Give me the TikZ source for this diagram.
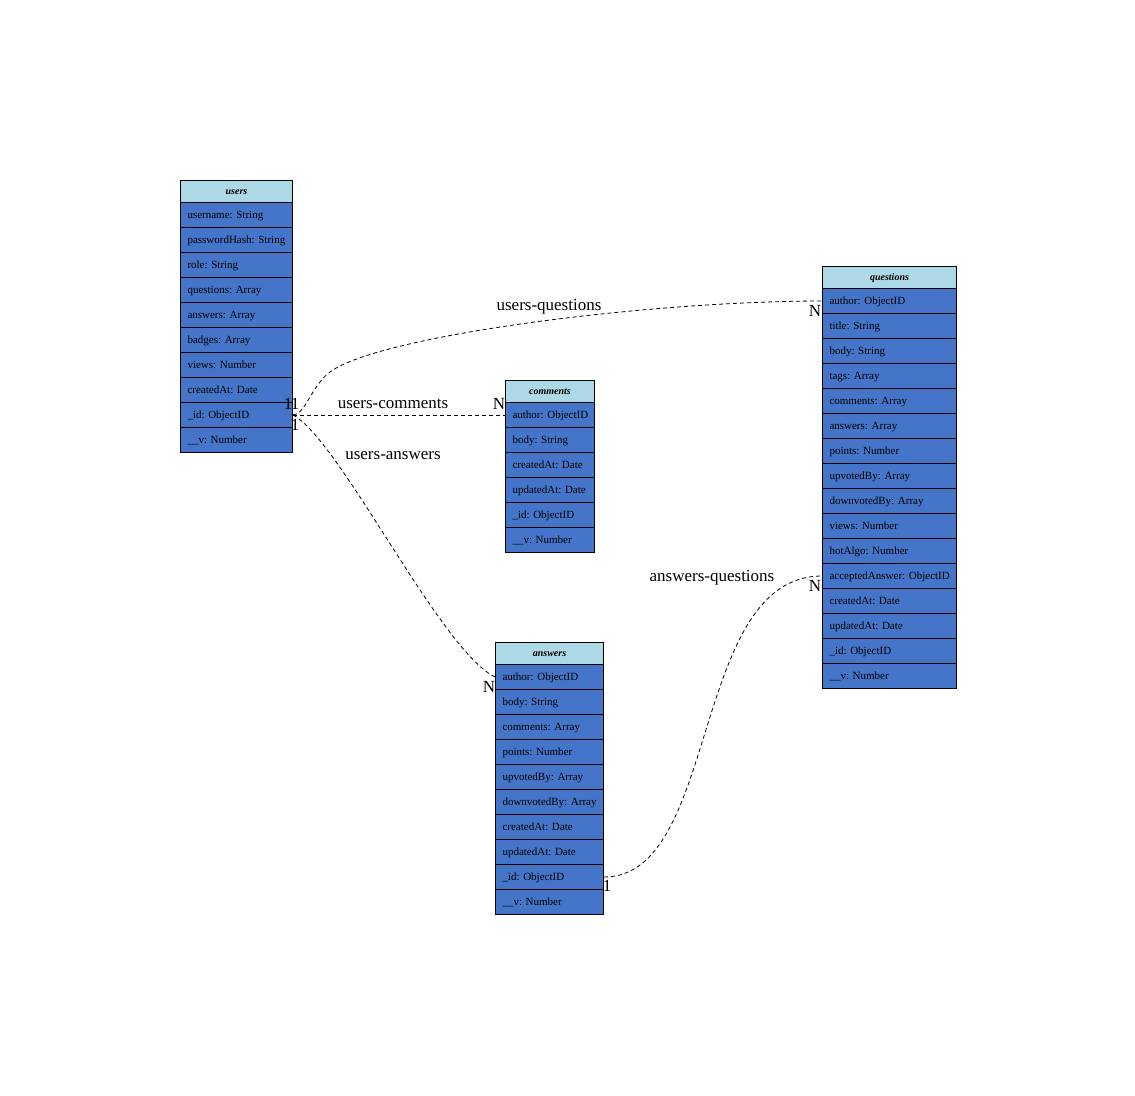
\documentclass[tikz,border=0pt]{standalone}
\usepackage{fontspec}
\setmainfont{Liberation Serif}
\frenchspacing
\hbadness=10000 \hfuzz=50pt
\definecolor{rowblue}{HTML}{4475C9}
\definecolor{hdrblue}{HTML}{ADD8E6}
\tikzset{
  hdr/.style={draw=black, fill=hdrblue, minimum height=22pt, inner sep=0pt, anchor=north west, line width=1pt, font=\fontsize{10}{12}\selectfont\bfseries\itshape, text height=7pt, text depth=1pt},
  fieldrow/.style={draw=black, fill=rowblue, minimum height=25pt, inner xsep=7pt, inner ysep=0pt, anchor=north west, align=left, line width=1pt, font=\fontsize{11}{12}\selectfont, text height=7pt, text depth=1pt},
  rel/.style={draw=black, dashed, dash pattern=on 4pt off 3pt, line width=0.8pt},
  rellabel/.style={font=\fontsize{17}{19}\selectfont, inner sep=0pt},
  mult/.style={font=\fontsize{17}{19}\selectfont, inner sep=0pt}
}
\newcommand{\erTable}[5]{%
  \node[hdr, minimum width=#4pt] (#1-h) at (#2,#3) {#1};
  \foreach \f [count=\i] in {#5} {
    \node[fieldrow, text width=#4pt-14pt] (#1-\i) at (#2,{#3+22+25*(\i-1)}) {\mbox{\f}};
  }%
}
\begin{document}
\begin{tikzpicture}[x=1pt,y=-1pt]
\useasboundingbox (0,0) rectangle (1135,1095);

\erTable{users}{180}{180}{112}{username: String,passwordHash: String,role: String,questions: Array,answers: Array,badges: Array,views: Number,createdAt: Date,\_id: ObjectID,\_\_v: Number}
\erTable{comments}{505}{380}{89}{author: ObjectID,body: String,createdAt: Date,updatedAt: Date,\_id: ObjectID,\_\_v: Number}
\erTable{questions}{822}{266}{134}{author: ObjectID,title: String,body: String,tags: Array,comments: Array,answers: Array,points: Number,upvotedBy: Array,downvotedBy: Array,views: Number,hotAlgo: Number,acceptedAnswer: ObjectID,createdAt: Date,updatedAt: Date,\_id: ObjectID,\_\_v: Number}
\erTable{answers}{495}{642}{108}{author: ObjectID,body: String,comments: Array,points: Number,upvotedBy: Array,downvotedBy: Array,createdAt: Date,updatedAt: Date,\_id: ObjectID,\_\_v: Number}

% relations
\draw[rel] (users-9.east) .. controls (305,415) and (312,385) .. (330,372) .. controls (380,335) and (650,301) .. (questions-1.west);
\draw[rel] (users-9.east) -- (comments-1.west);
\draw[rel] (users-9.east) .. controls (340,440) and (440,650) .. (answers-1.west);
\draw[rel] (answers-9.east) .. controls (720,877) and (690,576) .. (questions-12.west);

% relation labels
\node[rellabel] (lq) at (549,307) {users-questions};
\node[rellabel] (lc) at (393,404) {users-comments};
\node[rellabel] (la) at (393,456) {users-answers};
\node[rellabel] (laq) at (712,578) {answers-questions};

% multiplicities
\node[mult] (m1) at (288,404) {1};
\node[mult] (m2) at (295,404) {1};
\node[mult] (m3) at (295,425) {1};
\node[mult] (n1) at (815,311) {N};
\node[mult] (n2) at (499,404) {N};
\node[mult] (n3) at (489,687) {N};
\node[mult] (n4) at (815,586) {N};
\node[mult] (m4) at (607,886) {1};
\end{tikzpicture}
\end{document}
